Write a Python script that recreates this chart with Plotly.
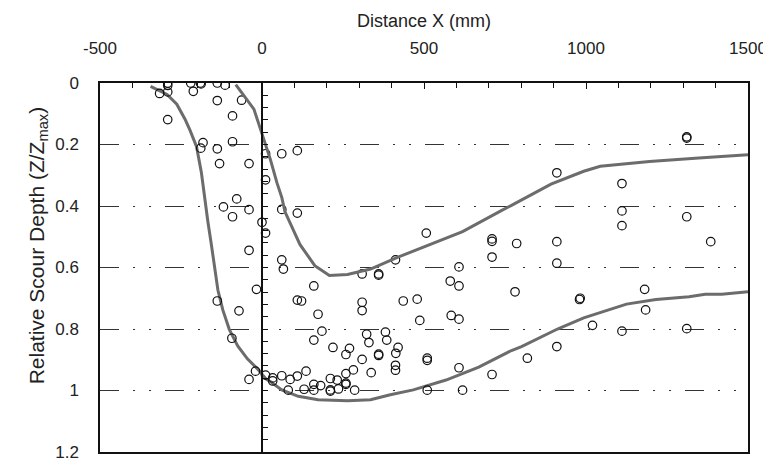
import plotly.graph_objects as go

# ---- data ----
pts_x = [-291, -291, -291, -316, -291, -220, -212, -190, -188, -138, -114, -138, -63, -91,
         -182, -189, -138, -91, 11, 61, 109, -131, -40, 11, -78, -119, -40, -91, 61, 109,
         0, 11, 507, 710, 710, -40, 61, 66, 412, 710, 608, 309, 360, 360, 160, 581, 608,
         -17, -138, 109, 122, 309, 309, 436, 479, -71, 173, 487, 584, 608, 185, 160, 323,
         330, 381, 385, -93, 219, 270, 259, 360, 360, 420, 413, 309, 510, 510, 412, 412,
         608, 710, 282, 337, 259, -20, -40, 11, 33, 33, 61, 87, 109, 136, 211, 232, 259,
         259, 160, 181, 81, 130, 160, 211, 211, 236, 286, 510, 619, 1311, 1311, 910, 1111,
         1111, 1111, 1311, 786, 910, 1385, 910, 781, 982, 980, 1181, 1184, 1020, 1111, 1311,
         910, 819]
pts_y = [0.000, 0.008, 0.029, 0.034, 0.119, 0.000, 0.027, 0.000, 0.003, 0.000, 0.007, 0.057,
         0.056, 0.107, 0.194, 0.212, 0.214, 0.191, 0.230, 0.230, 0.220, 0.262, 0.262, 0.315,
         0.377, 0.403, 0.412, 0.435, 0.411, 0.423, 0.453, 0.488, 0.488, 0.507, 0.515, 0.544,
         0.575, 0.605, 0.575, 0.566, 0.598, 0.621, 0.621, 0.625, 0.660, 0.644, 0.660, 0.671,
         0.709, 0.706, 0.709, 0.713, 0.740, 0.709, 0.703, 0.741, 0.752, 0.772, 0.756, 0.768,
         0.807, 0.836, 0.817, 0.844, 0.810, 0.836, 0.830, 0.860, 0.863, 0.883, 0.882, 0.886,
         0.860, 0.879, 0.899, 0.895, 0.902, 0.918, 0.934, 0.926, 0.948, 0.933, 0.942, 0.945,
         0.937, 0.964, 0.950, 0.959, 0.969, 0.952, 0.964, 0.953, 0.937, 0.961, 0.966, 0.976,
         0.980, 0.980, 0.984, 0.999, 0.996, 0.999, 0.998, 1.002, 0.995, 0.999, 0.999, 0.999,
         0.175, 0.179, 0.292, 0.327, 0.416, 0.464, 0.435, 0.522, 0.516, 0.516, 0.586, 0.679,
         0.700, 0.704, 0.671, 0.738, 0.788, 0.807, 0.799, 0.857, 0.895]

outer_x = [-344, -293, -263, -238, -222, -202, -187, -177, -167, -157, -146, -136, -121, -101,
           -75, -45, -10, 11, 31, 61, 112, 173, 264, 335, 396, 467, 568, 669, 770, 801, 912,
           993, 1125, 1216, 1318, 1368, 1419, 1495, 1500]
outer_y = [0.011, 0.037, 0.069, 0.117, 0.154, 0.207, 0.292, 0.377, 0.451, 0.520, 0.600, 0.674,
           0.738, 0.801, 0.855, 0.897, 0.934, 0.961, 0.975, 0.998, 1.019, 1.030, 1.033, 1.030,
           1.014, 0.998, 0.966, 0.924, 0.870, 0.857, 0.800, 0.764, 0.719, 0.704, 0.695, 0.687,
           0.687, 0.679, 0.679]

inner_x = [-81, -50, -25, -10, 6, 26, 46, 61, 71, 90, 117, 163, 208, 264, 335, 416, 517, 619,
           740, 770, 892, 993, 1044, 1196, 1348, 1495, 1500]
inner_y = [0.005, 0.048, 0.085, 0.133, 0.186, 0.249, 0.324, 0.372, 0.419, 0.462, 0.525, 0.594,
           0.626, 0.623, 0.605, 0.568, 0.525, 0.483, 0.414, 0.398, 0.329, 0.287, 0.271, 0.255,
           0.244, 0.233, 0.233]

y_ticks = [0, 0.2, 0.4, 0.6, 0.8, 1.0, 1.2]
y_ticktext = ["0", "0.2", "0.4", "0.6", "0.8", "1", "1.2"]
x_ticks = [-500, 0, 500, 1000, 1500]
x_ticktext = ["-500", "0", "500", "1000", "1500"]

FONT = "Liberation Sans, Arial, sans-serif"
CURVE = "#6c6c6c"

fig = go.Figure()
fig.add_trace(go.Scatter(x=outer_x, y=outer_y, mode="lines",
                         line=dict(color=CURVE, width=3), hoverinfo="skip"))
fig.add_trace(go.Scatter(x=inner_x, y=inner_y, mode="lines", yaxis="y2",
                         line=dict(color=CURVE, width=3), hoverinfo="skip"))
fig.add_trace(go.Scatter(x=pts_x, y=pts_y, mode="markers",
                         marker=dict(symbol="circle-open", size=8.5, color="#111111",
                                     line=dict(width=1.2, color="#111111"))))

fig.update_layout(
    width=771, height=466,
    margin=dict(l=92, r=21, t=75, b=14),
    plot_bgcolor="white", paper_bgcolor="white",
    showlegend=False,
    font=dict(family=FONT, size=17, color="#222222"),
    xaxis=dict(
        side="top", range=[-500, 1500], tickvals=x_ticks, ticktext=x_ticktext,
        ticks="inside", ticklen=6, tickcolor="#111", tickwidth=1.2,
        minor=dict(dtick=100, tick0=0, ticks="inside", ticklen=5, tickcolor="#111"),
        showline=True, linecolor="#111", linewidth=2, mirror=True,
        showgrid=False, zeroline=False,
        ticklabelstandoff=20,
        title=dict(text="Distance X (mm)", standoff=7, font=dict(size=18)),
    ),
    yaxis=dict(
        range=[1.2, 0], tickvals=y_ticks, ticktext=y_ticktext,
        ticks="", showline=True, linecolor="#111", linewidth=1.5, mirror=True,
        showgrid=True, gridcolor="#333333", gridwidth=1.2,
        griddash="19px,14px,2px,14px,2px,14px",
        zeroline=False, ticklabelstandoff=16,
    ),
    yaxis2=dict(
        range=[1.2, 0], overlaying="y", anchor="free", position=0.25, side="left",
        showline=True, linecolor="#111", linewidth=1.5,
        ticks="inside", tick0=0, dtick=0.04, ticklen=5, tickcolor="#111",
        showticklabels=False, showgrid=False, zeroline=False,
    ),
    annotations=[dict(
        text="Relative Scour Depth (Z/Z<sub>max</sub>)",
        xref="paper", yref="paper", x=0, y=0.56, xanchor="center", yanchor="middle",
        xshift=-62, textangle=-90, showarrow=False, font=dict(size=21, color="#222222"),
    )],
)

fig.write_html("out.html")
